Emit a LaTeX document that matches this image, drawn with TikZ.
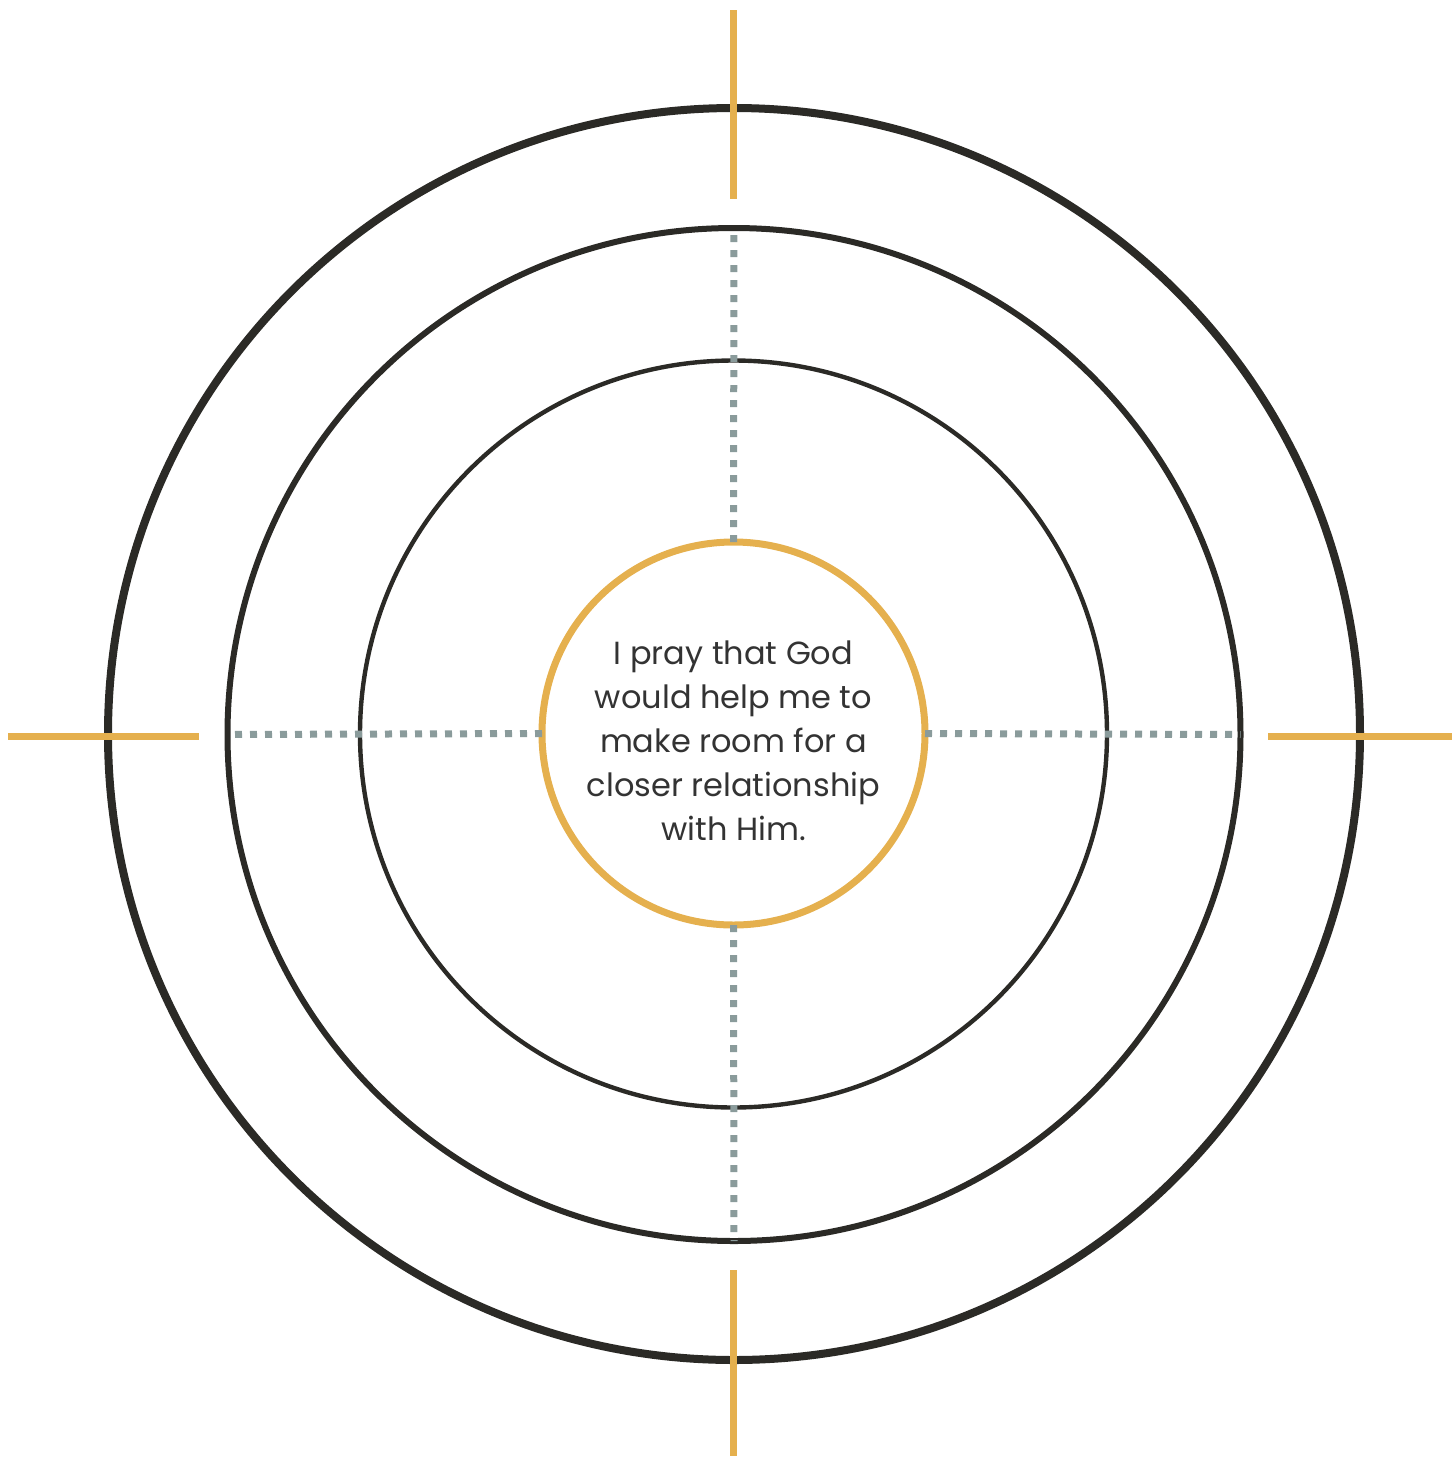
\documentclass[tikz,border=0pt]{standalone}
\usepackage{fontspec}
\setmainfont{Poppins}
\definecolor{ringblack}{HTML}{2B2A26}
\definecolor{gold}{HTML}{E5B04E}
\definecolor{dotgray}{HTML}{8A9B9B}
\definecolor{textgray}{HTML}{333333}
\tikzset{
  ring/.style={circle, draw=ringblack, inner sep=0pt, outer sep=0pt},
  goldtick/.style={draw=gold, line width=3.5pt},
  dotline/.style={draw=dotgray, line width=3.5pt, dash pattern=on 3.5pt off 4pt},
}
\begin{document}
\begin{tikzpicture}[x=0.5pt,y=-0.5pt]
\useasboundingbox (0,0) rectangle (1453,1458);
% rings
\node[ring, line width=4pt, minimum size=626pt] (outer) at (734,734) {};
\node[ring, line width=3pt, minimum size=506.5pt] (middle) at (734,734.5) {};
\node[ring, line width=2.2pt, minimum size=373.5pt] (inner) at (733.5,734) {};
\node[ring, draw=gold, line width=3.5pt, minimum size=191.5pt] (core) at (733.5,733.5) {};
\node[font=\fontsize{16}{22}\selectfont, text=textgray, align=center] (prayer) at (733.5,741) {I pray that God\\would help me to\\make room for a\\closer relationship\\with Him.};
% dotted spokes
\draw[dotline] (core.north) -- (middle.north);
\draw[dotline] (core.south) -- (middle.south);
\draw[dotline] (core.west) -- (middle.west);
\draw[dotline] (core.east) -- (middle.east);
% gold ticks
\coordinate (ta) at (733,10);   \coordinate (tb) at (733,199);
\coordinate (ba) at (733,1270); \coordinate (bb) at (733,1456);
\coordinate (la) at (8,736);    \coordinate (lb) at (199,736);
\coordinate (ra) at (1268,736); \coordinate (rb) at (1452,736);
\foreach \a/\b in {ta/tb, ba/bb, la/lb, ra/rb}
  \draw[goldtick] (\a) -- (\b);
\end{tikzpicture}
\end{document}
